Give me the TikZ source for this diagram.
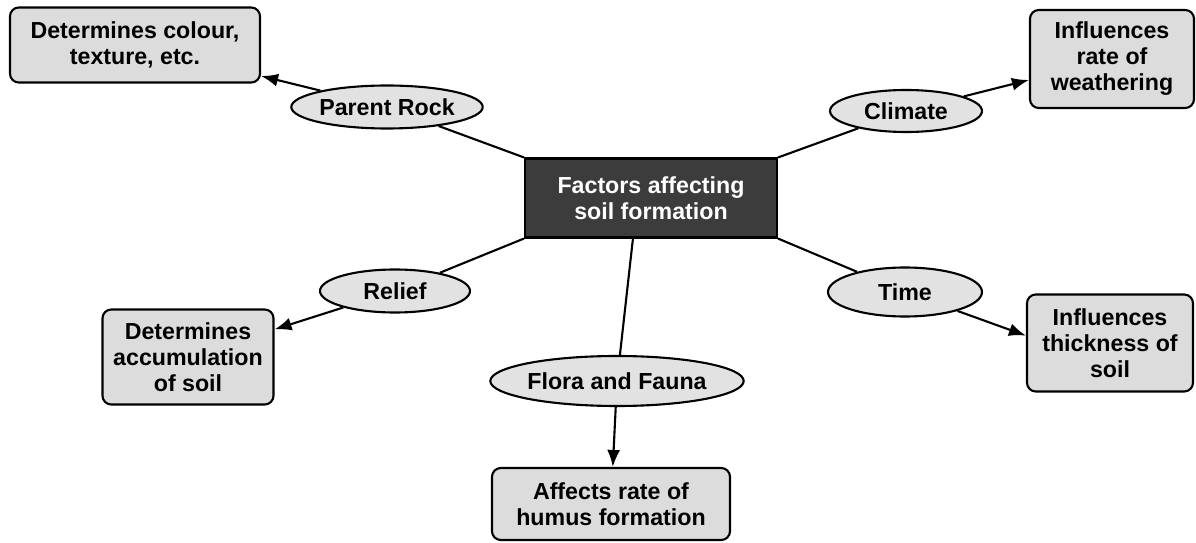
\documentclass[tikz,border=0pt]{standalone}
\usepackage{fontspec}
\setmainfont{Liberation Sans}
\usetikzlibrary{shapes.geometric,arrows.meta}
\definecolor{rootgray}{HTML}{3C3C3C}
\definecolor{boxgray}{HTML}{DCDCDC}
\definecolor{ovalgray}{HTML}{E2E2E2}

\begin{document}
\begin{tikzpicture}[
    every node/.style={font=\fontsize{13.2}{14.8}\selectfont\bfseries, align=center},
    rootbox/.style={draw, line width=1.2pt, fill=rootgray, text=white, minimum width=5.04cm, minimum height=1.58cm},
    factor/.style={draw, ellipse, line width=1.2pt, fill=ovalgray, inner sep=0pt},
    effect/.style={draw, rounded corners=5pt, line width=1.2pt, fill=boxgray, inner sep=0pt},
    link/.style={line width=1.2pt},
    arr/.style={line width=1.2pt, -{Latex[length=3.4mm,width=2.6mm]}}
  ]
      \useasboundingbox (0,0) rectangle (23.92,-10.86);
      \node[rootbox] (root) at (13.02,-3.96) {Factors affecting\\soil formation};

      \node[factor, minimum width=3.54cm, minimum height=0.86cm] (rock) at (7.74,-2.14) {Parent Rock};
      \node[factor, minimum width=3.04cm, minimum height=0.84cm] (climate) at (18.12,-2.22) {Climate};
      \node[factor, minimum width=3.0cm, minimum height=0.86cm] (relief) at (7.90,-5.82) {Relief};
      \node[factor, minimum width=4.8cm, minimum height=1.0cm] (flora) at (12.34,-7.62) {Flora and Fauna};
      \node[factor, minimum width=3.08cm, minimum height=0.98cm] (time) at (18.10,-5.84) {Time};

      \node[effect, minimum width=5.0cm, minimum height=1.5cm] (colour) at (2.70,-0.90) {Determines colour,\\texture, etc.};
      \node[effect, minimum width=3.28cm, minimum height=1.96cm] (weathering) at (22.24,-1.18) {Influences\\rate of\\weathering};
      \node[effect, minimum width=3.42cm, minimum height=1.90cm] (accumulation) at (3.76,-7.14) {Determines\\accumulation\\of soil};
      \node[effect, minimum width=4.76cm, minimum height=1.44cm] (humus) at (12.22,-10.08) {Affects rate of\\humus formation};
      \node[effect, minimum width=3.32cm, minimum height=1.94cm] (thickness) at (22.20,-6.86) {Influences\\thickness of\\soil};

      \draw[link] (root.north west) -- (rock);
      \draw[link] (root.north east) -- (climate);
      \draw[link] (root.south west) -- (relief);
      \draw[link] (root.246) -- (flora);
      \draw[link] (root.south east) -- (time);

      \draw[arr] (rock) -- (colour);
      \draw[arr] (climate) -- (weathering);
      \draw[arr] (relief) -- (accumulation);
      \draw[arr] (flora) -- (humus);
      \draw[arr] (time) -- (thickness.175);
\end{tikzpicture}
\end{document}
